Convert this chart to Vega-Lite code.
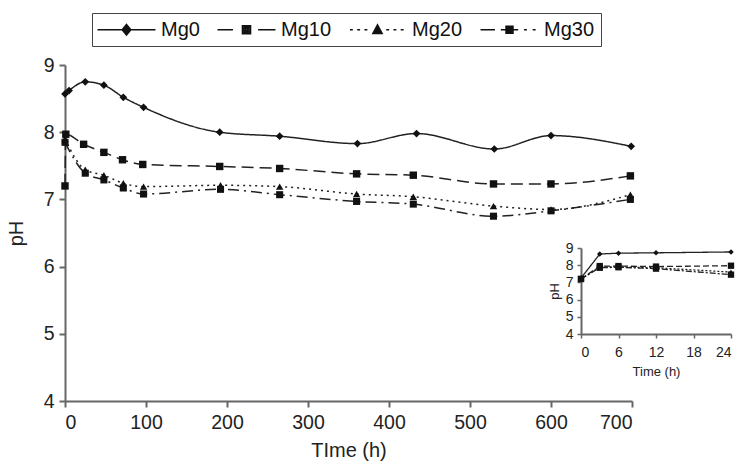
{
  "$schema": "https://vega.github.io/schema/vega-lite/v6.json",
  "autosize": {"type": "none"},
  "padding": {"left": 65, "top": 65, "right": 107, "bottom": 71},
  "width": 567,
  "height": 336,
  "background": "white",
  "config": {
    "view": {"stroke": null},
    "font": "Liberation Sans",
    "axis": {"grid": false, "domainColor": "#666", "tickColor": "#666", "labelColor": "#222", "titleColor": "#222", "titleFontWeight": "normal", "labelFont": "Liberation Sans", "titleFont": "Liberation Sans"}
  },
  "datasets": {
    "main": [
      {"series": "Mg0", "t": 0, "pH": 8.57},
      {"series": "Mg0", "t": 5, "pH": 8.62},
      {"series": "Mg0", "t": 25, "pH": 8.75},
      {"series": "Mg0", "t": 48, "pH": 8.7},
      {"series": "Mg0", "t": 72, "pH": 8.52},
      {"series": "Mg0", "t": 97, "pH": 8.37},
      {"series": "Mg0", "t": 191, "pH": 8.0},
      {"series": "Mg0", "t": 265, "pH": 7.94},
      {"series": "Mg0", "t": 361, "pH": 7.83},
      {"series": "Mg0", "t": 434, "pH": 7.98},
      {"series": "Mg0", "t": 530, "pH": 7.75},
      {"series": "Mg0", "t": 600, "pH": 7.95},
      {"series": "Mg0", "t": 699, "pH": 7.79},
      {"series": "Mg10", "t": 0, "pH": 7.2},
      {"series": "Mg10", "t": 1, "pH": 7.97},
      {"series": "Mg10", "t": 23, "pH": 7.82},
      {"series": "Mg10", "t": 48, "pH": 7.7},
      {"series": "Mg10", "t": 71, "pH": 7.59},
      {"series": "Mg10", "t": 96, "pH": 7.52},
      {"series": "Mg10", "t": 191, "pH": 7.49},
      {"series": "Mg10", "t": 265, "pH": 7.46},
      {"series": "Mg10", "t": 360, "pH": 7.38},
      {"series": "Mg10", "t": 430, "pH": 7.36},
      {"series": "Mg10", "t": 529, "pH": 7.23},
      {"series": "Mg10", "t": 600, "pH": 7.23},
      {"series": "Mg10", "t": 698, "pH": 7.35},
      {"series": "Mg20", "t": 0, "pH": 7.9},
      {"series": "Mg20", "t": 25, "pH": 7.44},
      {"series": "Mg20", "t": 48, "pH": 7.36},
      {"series": "Mg20", "t": 72, "pH": 7.24},
      {"series": "Mg20", "t": 97, "pH": 7.19},
      {"series": "Mg20", "t": 192, "pH": 7.21},
      {"series": "Mg20", "t": 265, "pH": 7.19},
      {"series": "Mg20", "t": 360, "pH": 7.08},
      {"series": "Mg20", "t": 430, "pH": 7.04},
      {"series": "Mg20", "t": 529, "pH": 6.9},
      {"series": "Mg20", "t": 600, "pH": 6.85},
      {"series": "Mg20", "t": 698, "pH": 7.07},
      {"series": "Mg30", "t": 0, "pH": 7.85},
      {"series": "Mg30", "t": 25, "pH": 7.39},
      {"series": "Mg30", "t": 48, "pH": 7.29},
      {"series": "Mg30", "t": 72, "pH": 7.17},
      {"series": "Mg30", "t": 97, "pH": 7.08},
      {"series": "Mg30", "t": 192, "pH": 7.15},
      {"series": "Mg30", "t": 265, "pH": 7.07},
      {"series": "Mg30", "t": 360, "pH": 6.97},
      {"series": "Mg30", "t": 430, "pH": 6.93},
      {"series": "Mg30", "t": 529, "pH": 6.75},
      {"series": "Mg30", "t": 600, "pH": 6.83},
      {"series": "Mg30", "t": 698, "pH": 7.0}
    ],
    "inset": [
      {"series": "Mg0", "t": 0, "pH": 7.25},
      {"series": "Mg0", "t": 3, "pH": 8.65},
      {"series": "Mg0", "t": 6, "pH": 8.7},
      {"series": "Mg0", "t": 12, "pH": 8.72},
      {"series": "Mg0", "t": 24, "pH": 8.77},
      {"series": "Mg10", "t": 0, "pH": 7.2},
      {"series": "Mg10", "t": 3, "pH": 7.95},
      {"series": "Mg10", "t": 6, "pH": 7.95},
      {"series": "Mg10", "t": 12, "pH": 7.92},
      {"series": "Mg10", "t": 24, "pH": 7.97},
      {"series": "Mg20", "t": 0, "pH": 7.2},
      {"series": "Mg20", "t": 3, "pH": 7.9},
      {"series": "Mg20", "t": 6, "pH": 7.9},
      {"series": "Mg20", "t": 12, "pH": 7.85},
      {"series": "Mg20", "t": 24, "pH": 7.6},
      {"series": "Mg30", "t": 0, "pH": 7.2},
      {"series": "Mg30", "t": 3, "pH": 7.85},
      {"series": "Mg30", "t": 6, "pH": 7.88},
      {"series": "Mg30", "t": 12, "pH": 7.8},
      {"series": "Mg30", "t": 24, "pH": 7.45}
    ],
    "series": [
      {"series": "Mg0"}, {"series": "Mg10"}, {"series": "Mg20"}, {"series": "Mg30"}
    ]
  },
  "layer": [
    {
      "data": {"name": "main"},
      "encoding": {
        "x": {"field": "t", "type": "quantitative", "scale": {"domain": [0, 700], "nice": false},
          "axis": {"values": [0, 100, 200, 300, 400, 500, 600, 700], "title": "TIme (h)", "labelFontSize": 19.5, "titleFontSize": 20, "domainWidth": 2, "tickWidth": 2, "tickSize": 6, "labelPadding": 6, "titlePadding": 9}},
        "y": {"field": "pH", "type": "quantitative", "scale": {"domain": [4, 9], "nice": false, "zero": false},
          "axis": {"values": [4, 5, 6, 7, 8, 9], "title": "pH", "labelFontSize": 19.5, "titleFontSize": 20, "domainWidth": 2, "tickWidth": 2, "tickSize": 6, "labelPadding": 5, "titlePadding": 17}}
      },
      "layer": [
        {
          "mark": {"type": "line", "interpolate": "monotone", "color": "#222", "strokeWidth": 1.5},
          "encoding": {
            "detail": {"field": "series"},
            "strokeDash": {"field": "series", "type": "nominal", "legend": null,
              "scale": {"domain": ["Mg0", "Mg10", "Mg20", "Mg30"], "range": [[1, 0], [12, 6], [2, 4], [11, 5, 2, 5]]}}
          }
        },
        {"transform": [{"filter": "datum.series == 'Mg0'"}], "mark": {"type": "point", "shape": "diamond", "filled": true, "color": "#111", "size": 60, "opacity": 1}},
        {"transform": [{"filter": "datum.series == 'Mg10'"}], "mark": {"type": "point", "shape": "square", "filled": true, "color": "#111", "size": 55, "opacity": 1}},
        {"transform": [{"filter": "datum.series == 'Mg20'"}], "mark": {"type": "point", "shape": "triangle-up", "filled": true, "color": "#111", "size": 55, "opacity": 1}},
        {"transform": [{"filter": "datum.series == 'Mg30'"}], "mark": {"type": "point", "shape": "square", "filled": true, "color": "#111", "size": 50, "opacity": 1}}
      ]
    },
    {
      "data": {"name": "inset"},
      "encoding": {
        "x": {"field": "t", "type": "quantitative", "scale": {"domain": [0, 24], "range": [516, 666], "nice": false},
          "axis": {"orient": "bottom", "offset": -67, "values": [0, 6, 12, 18, 24], "title": "Time (h)", "labelFontSize": 14, "titleFontSize": 13, "domainWidth": 2, "tickWidth": 1.5, "tickSize": 4, "labelPadding": 7, "titlePadding": 6}},
        "y": {"field": "pH", "type": "quantitative", "scale": {"domain": [4, 9], "range": [269, 183], "nice": false, "zero": false},
          "axis": {"orient": "left", "offset": -516, "values": [4, 5, 6, 7, 8, 9], "title": "pH", "labelFontSize": 14, "titleFontSize": 13, "domainWidth": 2, "tickWidth": 1.5, "tickSize": 4, "labelPadding": 4, "titlePadding": 4}}
      },
      "layer": [
        {
          "mark": {"type": "line", "color": "#222", "strokeWidth": 1.3},
          "encoding": {
            "detail": {"field": "series"},
            "strokeDash": {"field": "series", "type": "nominal", "legend": null,
              "scale": {"domain": ["Mg0", "Mg10", "Mg20", "Mg30"], "range": [[1, 0], [6, 3], [2, 2], [6, 2, 2, 2]]}}
          }
        },
        {"transform": [{"filter": "datum.series == 'Mg0'"}], "mark": {"type": "point", "shape": "diamond", "filled": true, "color": "#111", "size": 30, "opacity": 1}},
        {"transform": [{"filter": "datum.series == 'Mg10'"}], "mark": {"type": "point", "shape": "square", "filled": true, "color": "#111", "size": 40, "opacity": 1}},
        {"transform": [{"filter": "datum.series == 'Mg20'"}], "mark": {"type": "point", "shape": "triangle-up", "filled": true, "color": "#111", "size": 35, "opacity": 1}},
        {"transform": [{"filter": "datum.series == 'Mg30'"}], "mark": {"type": "point", "shape": "square", "filled": true, "color": "#111", "size": 40, "opacity": 1}}
      ]
    },
    {
      "data": {"name": "series"},
      "mark": {"type": "point", "filled": false, "color": "#111", "opacity": 0, "size": 374, "strokeWidth": 1.5},
      "encoding": {
        "shape": {"field": "series", "type": "nominal",
          "scale": {"domain": ["Mg0", "Mg10", "Mg20", "Mg30"], "range": [
            "M-3,0L3,0M0,-0.55L0.45,0L0,0.55L-0.45,0ZM0,-0.38L0.3,0L0,0.38L-0.3,0ZM0,-0.2L0.15,0L0,0.2L-0.15,0ZM0,-0.08L0,0.08",
            "M-3,0L-1.4,0M1.2,0L3,0M-0.42,-0.42L0.42,-0.42L0.42,0.42L-0.42,0.42ZM-0.26,-0.26L0.26,-0.26L0.26,0.26L-0.26,0.26ZM-0.1,-0.1L0.1,-0.1L0.1,0.1L-0.1,0.1Z",
            "M-2.85,0L-2.55,0M-2.1,0L-1.8,0M-1.35,0L-1.05,0M0.9,0L1.2,0M1.65,0L1.95,0M2.4,0L2.7,0M0,-0.5L0.48,0.38L-0.48,0.38ZM0,-0.27L0.29,0.26L-0.29,0.26ZM0,-0.06L0.12,0.16L-0.12,0.16Z",
            "M-3,0L-1.5,0M-0.9,0L0.9,0M1.5,0L1.8,0M2.4,0L2.7,0M-0.36,-0.36L0.36,-0.36L0.36,0.36L-0.36,0.36ZM-0.22,-0.22L0.22,-0.22L0.22,0.22L-0.22,0.22ZM-0.08,-0.08L0.08,-0.08L0.08,0.08L-0.08,0.08Z"
          ]},
          "legend": {"orient": "none", "legendX": 27, "legendY": -52, "direction": "horizontal", "title": null,
            "strokeColor": "#444", "padding": 6, "labelFontSize": 20, "labelFont": "Liberation Sans", "labelColor": "#111",
            "symbolSize": 374, "symbolOpacity": 1, "symbolFillColor": "#111", "symbolStrokeColor": "#111", "symbolStrokeWidth": 1.5,
            "symbolOffset": 18, "labelOffset": 24, "columnPadding": 14}
        }
      }
    }
  ],
  "resolve": {
    "scale": {"x": "independent", "y": "independent", "shape": "independent", "strokeDash": "independent"},
    "axis": {"x": "independent", "y": "independent"},
    "legend": {"shape": "independent", "strokeDash": "independent"}
  }
}
